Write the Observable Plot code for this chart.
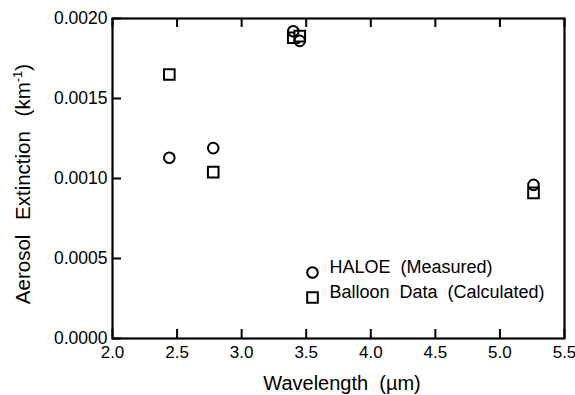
<!DOCTYPE html>
<html>
<head>
<meta charset="utf-8">
<script src="https://cdn.jsdelivr.net/npm/d3@7"></script>
<script src="https://cdn.jsdelivr.net/npm/@observablehq/plot@0.6"></script>
<style>
  html, body { margin: 0; padding: 0; background: #fff; }
  #chart { position: relative; width: 575px; height: 395px; }
</style>
</head>
<body>
<div id="chart"></div>
<script>
// Data
const haloeWavelength = [2.44, 2.78, 3.40, 3.45, 5.26];
const haloeExtinction = [0.00113, 0.00119, 0.00192, 0.00186, 0.00096];
const balloonWavelength = [2.44, 2.78, 3.40, 3.45, 5.26];
const balloonExtinction = [0.00165, 0.00104, 0.00188, 0.00189, 0.00091];
const xTicks = [2.0, 2.5, 3.0, 3.5, 4.0, 4.5, 5.0, 5.5];
const yTicks = [0.0000, 0.0005, 0.0010, 0.0015, 0.0020];
const seriesNames = ["HALOE  (Measured)", "Balloon  Data  (Calculated)"];
const xTitle = "Wavelength  (µm)";
const yTitle = "Aerosol Extinction (km";

const haloe = haloeWavelength.map((w, i) => ({w, e: haloeExtinction[i]}));
const balloon = balloonWavelength.map((w, i) => ({w, e: balloonExtinction[i]}));

const W = 575, H = 395;
const mL = 112, mR = 11, mT = 18, mB = 57;
const fw = W - mL - mR, fh = H - mT - mB;
const font = "'Liberation Sans', Arial, sans-serif";

const plot = Plot.plot({
  width: W, height: H,
  marginLeft: mL, marginRight: mR, marginTop: mT, marginBottom: mB,
  style: {fontFamily: font, fontSize: "17px", color: "#000", background: "#fff"},
  x: {domain: [2.0, 5.5], ticks: xTicks, tickFormat: d3.format(".1f"), label: null},
  y: {domain: [0, 0.002], ticks: yTicks, tickFormat: d3.format(".4f"), label: null},
  marks: [
    Plot.axisX({ticks: xTicks, tickFormat: d3.format(".1f"), tickSize: 0, tickPadding: 7, fontSize: 17}),
    Plot.axisY({ticks: yTicks, tickFormat: d3.format(".4f"), tickSize: 0, tickPadding: 5, fontSize: 17.5}),
    Plot.tickX(xTicks, {x: d => d, insetTop: fh - 9, stroke: "#000", strokeWidth: 2}),
    Plot.tickX(xTicks, {x: d => d, insetBottom: fh - 9, stroke: "#000", strokeWidth: 2}),
    Plot.tickY(yTicks, {y: d => d, insetRight: fw - 9, stroke: "#000", strokeWidth: 2}),
    Plot.frame({stroke: "#000", strokeWidth: 2.2}),
    Plot.dot(balloon, {x: "w", y: "e", symbol: "square", r: 6, stroke: "#000", strokeWidth: 2, fill: "#fff"}),
    Plot.dot(haloe, {x: "w", y: "e", symbol: "circle", r: 5.3, stroke: "#000", strokeWidth: 2, fill: "none"}),
    // legend
    Plot.dot([seriesNames[0]], {frameAnchor: "bottom-right", dx: -252, dy: -66, symbol: "circle", r: 5.3, stroke: "#000", strokeWidth: 2, fill: "none"}),
    Plot.dot([seriesNames[1]], {frameAnchor: "bottom-right", dx: -252, dy: -41, symbol: "square", r: 6, stroke: "#000", strokeWidth: 2, fill: "none"}),
    Plot.text([seriesNames[0]], {text: d => d, frameAnchor: "bottom-right", dx: -235, dy: -66, textAnchor: "start", fontSize: 18, fill: "#000"}),
    Plot.text([seriesNames[1]], {text: d => d, frameAnchor: "bottom-right", dx: -235, dy: -41, textAnchor: "start", fontSize: 18, fill: "#000"})
  ]
});

const svg = d3.select(plot);
svg.selectAll("text").style("white-space", "pre");
svg.append("text")
  .attr("x", mL + fw / 2 + 4).attr("y", H - 5)
  .attr("text-anchor", "middle")
  .style("font-family", font).style("font-size", "20px").style("white-space", "pre")
  .text(xTitle);
const yt = svg.append("text")
  .attr("transform", `translate(30, ${mT + fh / 2 + 6}) rotate(-90)`)
  .attr("text-anchor", "middle")
  .style("font-family", font).style("font-size", "20.5px").style("white-space", "pre")
  .style("word-spacing", "9px");
yt.append("tspan").text(yTitle);
yt.append("tspan").attr("dy", -8).style("font-size", "13px").text("-1");
yt.append("tspan").attr("dy", 8).text(")");

document.getElementById("chart").appendChild(plot);
</script>
</body>
</html>
